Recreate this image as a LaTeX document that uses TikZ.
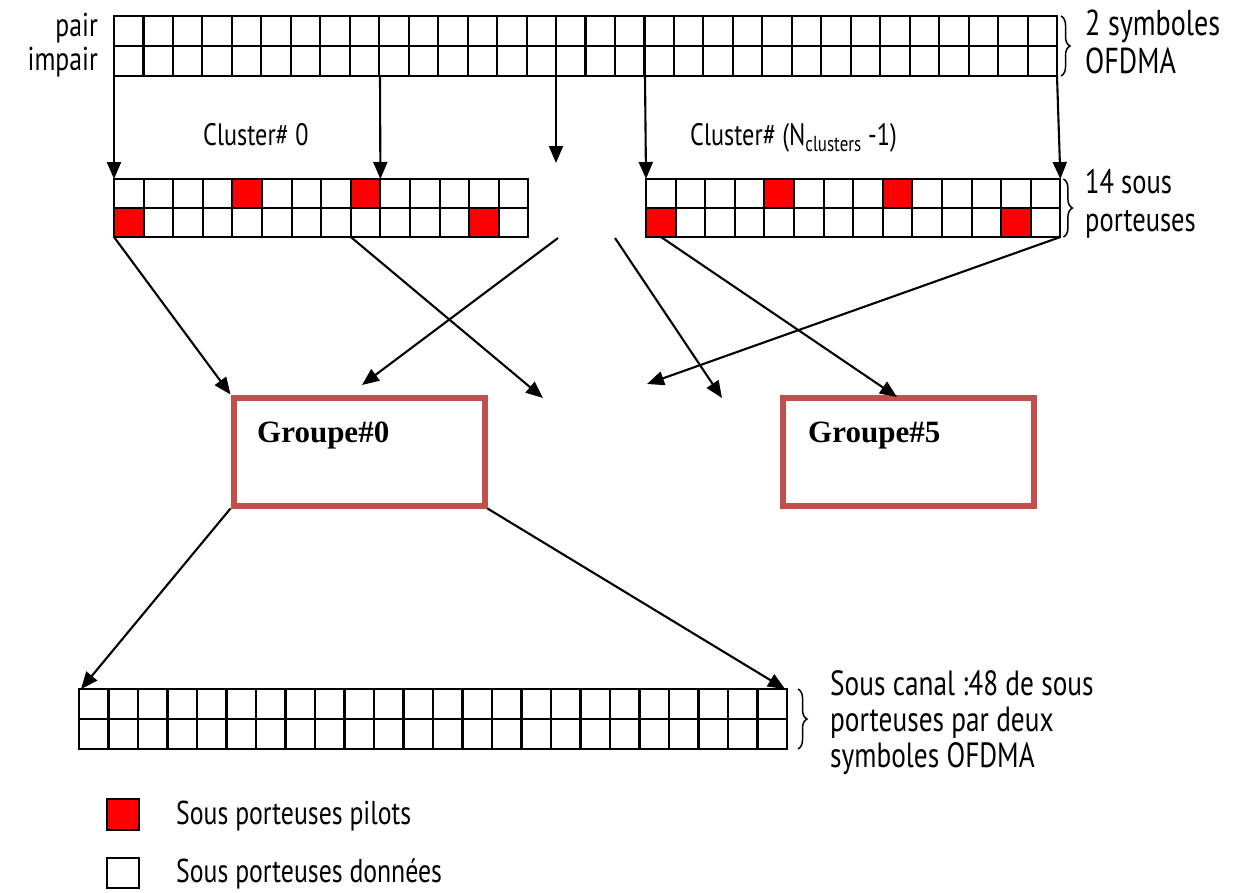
\documentclass[tikz,border=0pt]{standalone}
\usepackage{fontspec}
\setmainfont{Liberation Serif}
\newfontfamily\lblfont[FakeStretch=0.78]{PT Sans}
\usetikzlibrary{arrows.meta,decorations.pathreplacing,calc}
\definecolor{grpred}{HTML}{C0504D}
\definecolor{pilot}{HTML}{FF0000}
\newcommand\lblsz[1]{\lblfont\fontsize{#1}{#1}\selectfont}

\begin{document}
\begin{tikzpicture}[x=1pt,y=-1pt,
  cell/.style={draw=black,line width=2.1pt,fill=white},
  pilotcell/.style={cell,fill=pilot},
  gridframe/.style={inner sep=0pt,outer sep=0pt,anchor=north west},
  link/.style={line width=2.1pt,-{Triangle[length=17pt,width=14pt]}},
  grpbox/.style={draw=grpred,line width=6pt,minimum width=251pt,minimum height=108pt,inner sep=0pt},
  grplbl/.style={inner sep=0pt,anchor=base west,font=\bfseries\fontsize{31}{36}\selectfont},
  txt/.style={inner sep=0pt,anchor=base west,font=\lblsz{#1}},
  txt/.default=34,
  brc/.style={decorate,decoration={brace,amplitude=9pt},line width=1.5pt},
]
\useasboundingbox (0,0) rectangle (1241,892);

% ---------- two OFDMA symbols: 32 sub-carriers x 2 rows ----------
\node[gridframe,minimum width=943pt,minimum height=60pt] (top) at (114,16) {};
\foreach \i in {0,...,31}
  \foreach \r in {0,1}
    \draw[cell] ({114+\i*29.47},{16+\r*30}) rectangle ++(29.47,30);

% ---------- two clusters of 14 sub-carriers ----------
\node[gridframe,minimum width=414.4pt,minimum height=58pt] (clL) at (114,179) {};
\node[gridframe,minimum width=414.4pt,minimum height=58pt] (clR) at (646,179) {};
\foreach \ox in {114,646}{
  \foreach \i in {0,...,13}
    \foreach \r in {0,1}
      \draw[cell] ({\ox+\i*29.6},{179+\r*29}) rectangle ++(29.6,29);
  \foreach \i/\r in {4/0,8/0,0/1,12/1}
    \draw[pilotcell] ({\ox+\i*29.6},{179+\r*29}) rectangle ++(29.6,29);
}

% ---------- sub-channel: 24 sub-carriers x 2 rows ----------
\node[gridframe,minimum width=708pt,minimum height=60pt] (sub) at (79,689) {};
\foreach \i in {0,...,23}
  \foreach \r in {0,1}
    \draw[cell] ({79+\i*29.5},{689+\r*30}) rectangle ++(29.5,30);

% ---------- groups ----------
\node[grpbox] (g0) at (359,451.5) {};
\node[grpbox] (g5) at (908.5,451.5) {};
\node[grplbl] (g0t) at (257,442) {Groupe\#0};
\node[grplbl] (g5t) at (808,442) {Groupe\#5};

% ---------- labels ----------
\node[txt=33,anchor=base east] (pair) at (98,36) {pair};
\node[txt=33,anchor=base east] (impair) at (98,70) {impair};
\node[txt=31] (c0) at (203,145) {Cluster\# 0};
\node[txt=31] (cn) at (690,145) {Cluster\# (N\textsubscript{clusters} -1)};
\node[txt=36] (sym1) at (1085,35) {2 symboles};
\node[txt=36] (sym2) at (1085,73) {OFDMA};
\node[txt=34] (sp1) at (1085,193) {14 sous};
\node[txt=34] (sp2) at (1085,231) {porteuses};
\node[txt=35] (sc1) at (830,695) {Sous canal :48 de sous};
\node[txt=35] (sc2) at (830,731) {porteuses par deux};
\node[txt=35] (sc3) at (830,767) {symboles OFDMA};

% ---------- braces ----------
\draw[brc] ($(top.north east)+(4,0)$) -- ($(top.south east)+(4,0)$);
\draw[brc] ($(clR.north east)+(3,0)$) -- ($(clR.south east)+(3,0)$);
\draw[brc] ($(sub.north east)+(11,0)$) -- ($(sub.south east)+(11,0)$);

% ---------- connector end points ----------
\coordinate (t9) at ($(top.south west)+(266,0)$);
\coordinate (tmid) at (556,76);
\coordinate (t18) at ($(top.south west)+(531,0)$);
\coordinate (cL9) at ($(clL.north west)+(266.4,0)$);
\coordinate (fall) at (556,163);
\coordinate (cL8) at ($(clL.south west)+(236.8,0)$);
\coordinate (cRp) at ($(clR.south west)+(15,0)$);
\coordinate (gapL) at (558,238);
\coordinate (gapR) at (615,238);
\coordinate (e1) at (543,398);
\coordinate (e2) at (362,385);
\coordinate (e3) at (722,398);
\coordinate (e4) at (647,384);
\coordinate (g5in) at (897,397);

% ---------- symbols -> clusters ----------
\draw[link] (top.south west) -- (clL.north west);
\draw[link] (t9) -- (cL9);
\draw[link] (tmid) -- (fall);
\draw[link] (t18) -- (clR.north west);
\draw[link] (top.south east) -- (clR.north east);

% ---------- clusters -> groups ----------
\draw[link] (clL.south west) -- (g0.north west);
\draw[link] (cL8) -- (e1);
\draw[link] (gapL) -- (e2);
\draw[link] (gapR) -- (e3);
\draw[link] (cRp) -- (g5in);
\draw[link] (clR.south east) -- (e4);

% ---------- group -> sub-channel ----------
\draw[link] (g0.south west) -- ($(sub.north west)+(2,0)$);
\draw[link] (g0.south east) -- ($(sub.north east)+(-2,0)$);

% ---------- legend ----------
\draw[pilotcell] (107,799) rectangle (139,830);
\node[txt=33] (lp) at (176,824) {Sous porteuses pilots};
\draw[cell] (107,858) rectangle (139,888);
\node[txt=33] (ld) at (176,882) {Sous porteuses données};
\end{tikzpicture}
\end{document}
